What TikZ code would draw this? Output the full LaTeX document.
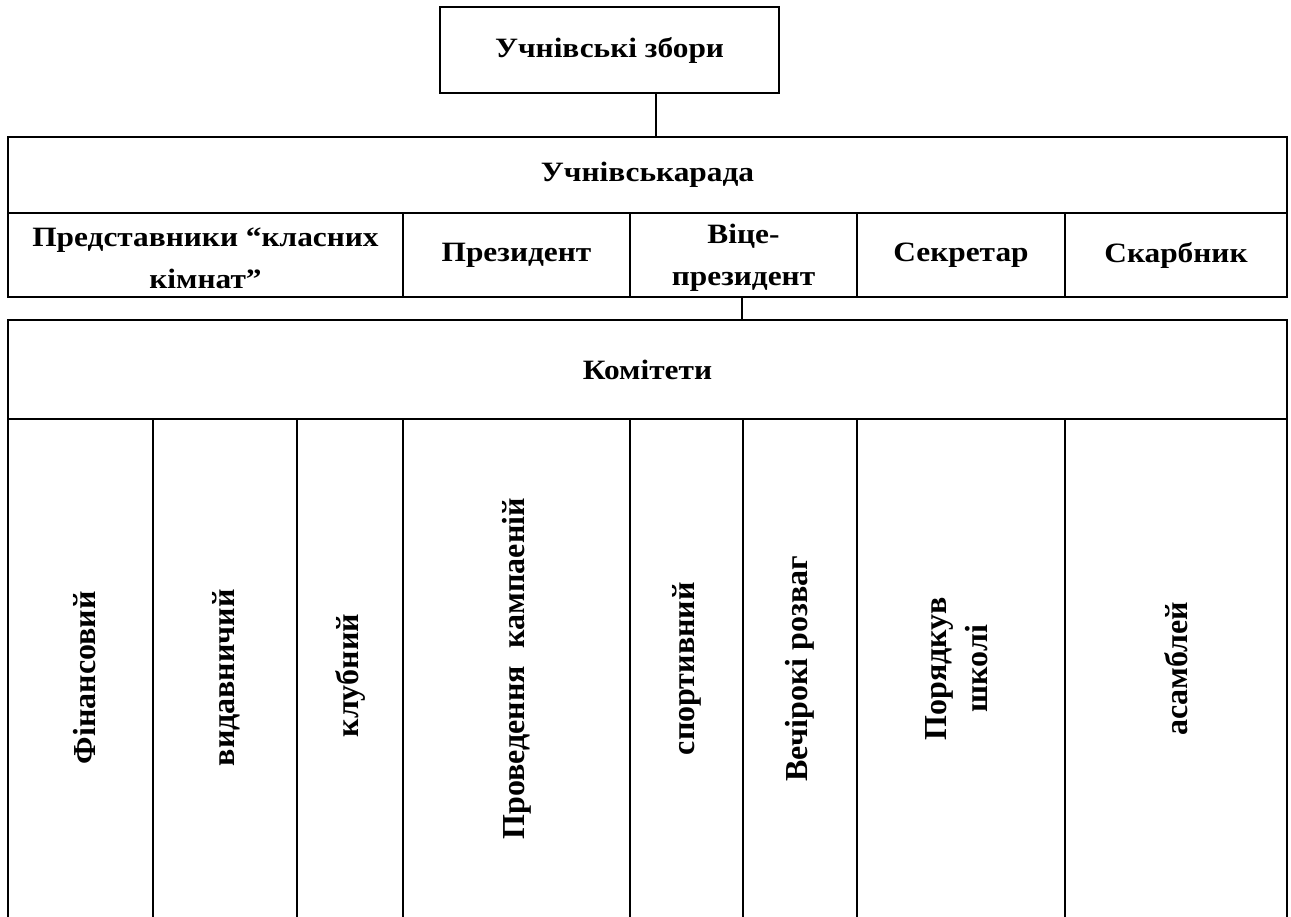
\documentclass[tikz,border=0pt]{standalone}
\usepackage{fontspec}
\setmainfont{Liberation Serif}
\newfontfamily\hfont[FakeStretch=1.12]{Liberation Serif}
\begin{document}
\begin{tikzpicture}[x=1pt,y=-1pt,line width=1.6pt,
  txt/.style={font=\hfont\bfseries\fontsize{28}{42}\selectfont,align=center},
  cell/.style={draw,rectangle,inner sep=0pt,txt},
  vlbl/.style={font=\bfseries\fontsize{32}{41}\selectfont,align=center,inner sep=0pt,rotate=90},
  link/.style={draw,line width=1.6pt}]
\useasboundingbox (0,0) rectangle (1291,917);
% top box
\node[cell,minimum width=339pt,minimum height=86pt] (top) at (609.5,50) {Учнівські збори};
% rada
\node[cell,minimum width=1279pt,minimum height=76pt] (rada) at (647.5,175) {Учнівськарада};
\node[cell,minimum width=395pt,minimum height=84pt] (rep) at (205.5,255) {};
\node[cell,minimum width=227pt,minimum height=84pt] (pres) at (516.5,255) {Президент};
\node[cell,minimum width=227pt,minimum height=84pt] (vice) at (743.5,255) {};
\node[cell,minimum width=208pt,minimum height=84pt] (sec) at (961,255) {Секретар};
\node[cell,minimum width=222pt,minimum height=84pt] (tre) at (1176,255) {Скарбник};
\node[txt,inner sep=0pt] (lrep) at ([yshift=-3pt]rep.center) {Представники “класних\\кімнат”};
\node[txt,inner sep=0pt] (lvice) at ([yshift=-3pt]vice.center) {Віце-\\президент};
% committees
\node[cell,minimum width=1279pt,minimum height=99pt] (kom) at (647.5,369.5) {Комітети};
\node[cell,minimum width=145pt,minimum height=499.5pt] (fin) at (80.5,668.75) {};
\node[cell,minimum width=144pt,minimum height=499.5pt] (vyd) at (225,668.75) {};
\node[cell,minimum width=106pt,minimum height=499.5pt] (klub) at (350,668.75) {};
\node[cell,minimum width=227pt,minimum height=499.5pt] (prov) at (516.5,668.75) {};
\node[cell,minimum width=113pt,minimum height=499.5pt] (sport) at (686.5,668.75) {};
\node[cell,minimum width=114pt,minimum height=499.5pt] (vech) at (800,668.75) {};
\node[cell,minimum width=208pt,minimum height=499.5pt] (por) at (961,668.75) {};
\node[cell,minimum width=222pt,minimum height=499.5pt] (asam) at (1176,668.75) {};
\node[vlbl] (lfin) at ([xshift=4pt,yshift=-9pt]fin.center) {Фінансовий};
\node[vlbl] (lvyd) at ([xshift=1pt,yshift=-9pt]vyd.center) {видавничий};
\node[vlbl] (lklub) at ([yshift=-7pt]klub.center) {клубний};
\node[vlbl] (lprov) at (prov.center) {Проведення\hspace{0.3em} кампаеній};
\node[vlbl] (lsport) at (sport.center) {спортивний};
\node[vlbl] (lvech) at (vech.center) {Вечірокі розваг};
\node[vlbl] (lpor) at ([xshift=-4pt]por.center) {Порядкув\\школі};
\node[vlbl] (lasam) at (asam.center) {асамблей};
% connectors
\draw[link] ([xshift=46.5pt]top.south) -- ([xshift=46.5pt]top.south |- rada.north);
\draw[link] ([xshift=-1.5pt]vice.south) -- ([xshift=-1.5pt]vice.south |- kom.north);
\end{tikzpicture}
\end{document}
